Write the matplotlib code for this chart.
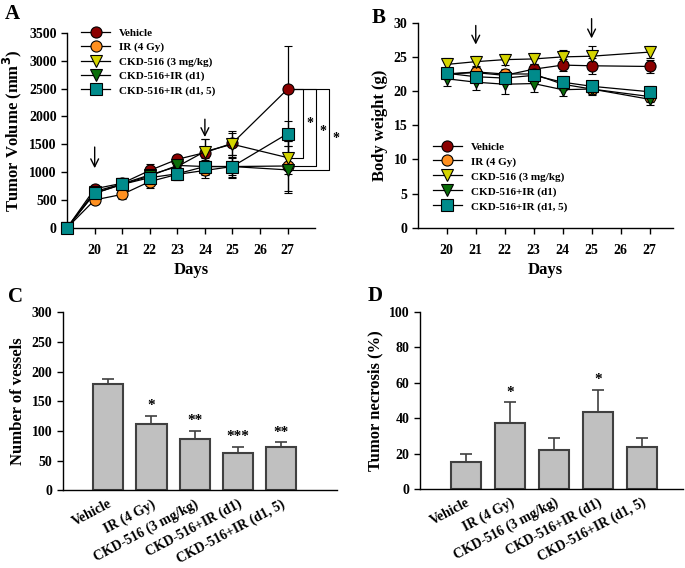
import numpy as np
import matplotlib
matplotlib.use('Agg')
import matplotlib.pyplot as plt
from matplotlib.lines import Line2D

plt.rcParams['font.family'] = ['Liberation Serif', 'DejaVu Serif']
plt.rcParams['font.weight'] = 'bold'
plt.rcParams['axes.labelweight'] = 'bold'

groups = ['Vehicle', 'IR (4 Gy)', 'CKD-516 (3 mg/kg)', 'CKD-516+IR (d1)', 'CKD-516+IR (d1, 5)']
colors = ['#8b0000', '#ff9020', '#d4d400', '#0a6e0a', '#008b8b']
markers = ['o', 'o', 'v', 'v', 's']

# Panel A: tumor volume
days_a = [19, 20, 21, 22, 23, 24, 25, 27]
vol_vehicle = [0, 700, 800, 1030, 1230, 1350, 1520, 2490]
vol_ir = [0, 500, 600, 830, 960, 1030, 1100, 1110]
vol_ckd = [0, 650, 790, 950, 1100, 1370, 1500, 1260]
vol_d1 = [0, 620, 780, 930, 1120, 1100, 1100, 1040]
vol_d15 = [0, 620, 780, 900, 970, 1100, 1100, 1690]
err_vehicle = [0, 70, 90, 110, 80, 250, 210, 780]
err_ir = [0, 60, 80, 120, 100, 130, 150, 450]
err_ckd = [0, 60, 70, 100, 90, 230, 200, 300]
err_d1 = [0, 60, 80, 100, 110, 150, 180, 420]
err_d15 = [0, 60, 80, 100, 120, 120, 200, 230]

# Panel B: body weight
days_b = [20, 21, 22, 23, 24, 25, 27]
bw_vehicle = [22.5, 22.7, 22.3, 23.2, 23.8, 23.7, 23.6]
bw_ir = [22.5, 22.8, 22.5, 22.5, 21.0, 20.3, 19.2]
bw_ckd = [23.9, 24.3, 24.6, 24.7, 25.0, 25.1, 25.7]
bw_d1 = [21.8, 21.3, 21.0, 21.1, 20.2, 20.3, 18.8]
bw_d15 = [22.6, 22.1, 21.9, 22.3, 21.3, 20.7, 19.9]
bwe_vehicle = [0.8, 0.8, 0.8, 0.8, 0.9, 1.2, 0.9]
bwe_ir = [0.7, 0.8, 0.7, 0.7, 0.8, 0.8, 0.8]
bwe_ckd = [0.9, 0.9, 0.8, 0.8, 1.0, 1.5, 0.9]
bwe_d1 = [1.1, 1.2, 1.5, 1.2, 0.9, 0.9, 0.8]
bwe_d15 = [0.6, 0.7, 0.7, 0.8, 0.9, 0.8, 0.9]

# Panel C / D: bars
vessels = [179, 112, 86, 63, 73]
vessels_err = [9, 14, 14, 10, 8]
vessels_sig = ['', '*', '**', '***', '**']
necrosis = [15, 37.5, 22, 43.5, 24]
necrosis_err = [4.5, 11.5, 7, 12.5, 5]
necrosis_sig = ['', '*', '', '*', '']

fig = plt.figure(figsize=(6.85, 5.68), dpi=100)
axA = fig.add_axes([0.098, 0.599, 0.362, 0.343])
axB = fig.add_axes([0.610, 0.599, 0.372, 0.361])
axC = fig.add_axes([0.092, 0.137, 0.400, 0.313])
axD = fig.add_axes([0.613, 0.139, 0.384, 0.312])

handles = [Line2D([0], [0], color='black', lw=0.9, marker=m, markersize=8,
                  markerfacecolor=c, markeredgecolor='black', markeredgewidth=0.8)
           for c, m in zip(colors, markers)]


def style(ax):
    for s in ['top', 'right']:
        ax.spines[s].set_visible(False)
    for s in ['left', 'bottom']:
        ax.spines[s].set_linewidth(1.0)
    ax.tick_params(labelsize=10, width=1.0, length=4)
    for lab in ax.get_xticklabels() + ax.get_yticklabels():
        lab.set_fontweight('bold')


# ---- A
series_a = [(vol_vehicle, err_vehicle), (vol_ir, err_ir), (vol_ckd, err_ckd),
            (vol_d1, err_d1), (vol_d15, err_d15)]
for (v, e), c, m in zip(series_a, colors, markers):
    axA.errorbar(days_a, v, yerr=e, color='black', lw=0.9, capsize=3, capthick=0.9,
                 marker=m, markersize=8, markerfacecolor=c, markeredgecolor='black',
                 markeredgewidth=0.8, clip_on=False, zorder=3)
axA.set_xlim(19, 28)
axA.set_ylim(0, 3500)
axA.set_xticks([19, 20, 21, 22, 23, 24, 25, 26, 27])
axA.set_xticklabels(['', '20', '21', '22', '23', '24', '25', '26', '27'])
axA.set_yticks(np.arange(0, 3501, 500))
axA.set_xlabel('Days', fontsize=12, labelpad=3)
axA.set_ylabel('Tumor Volume (mm$^\\mathbf{3}$)', fontsize=12)
style(axA)
axA.tick_params(axis='x', pad=8)
axA.legend(handles, groups, loc='upper left', bbox_to_anchor=(0.03, 1.06), frameon=False,
           handlelength=2.6, labelspacing=0.4, borderaxespad=0.2,
           prop={'weight': 'bold', 'size': 8})
for d, y0, y1 in [(20, 1500, 1020), (24, 2000, 1580)]:
    axA.annotate('', xy=(d, y1), xytext=(d, y0),
                 arrowprops=dict(arrowstyle='->', color='black', lw=1.0, mutation_scale=14))
# significance brackets
top = vol_vehicle[-1]
for target, xb, ys in [(vol_ckd[-1], 27.55, 1880), (vol_ir[-1], 28.05, 1730), (vol_d1[-1], 28.52, 1610)]:
    axA.plot([27.15, xb, xb, 27.15], [top, top, target, target], color='black', lw=0.8,
             clip_on=False)
    axA.text(xb + 0.12, ys, '*', fontsize=10, ha='left', va='center', clip_on=False)
axA.text(-0.25, 1.07, 'A', transform=axA.transAxes, fontsize=15, fontweight='bold')

# ---- B
series_b = [(bw_vehicle, bwe_vehicle), (bw_ir, bwe_ir), (bw_ckd, bwe_ckd),
            (bw_d1, bwe_d1), (bw_d15, bwe_d15)]
for (v, e), c, m in zip(series_b, colors, markers):
    axB.errorbar(days_b, v, yerr=e, color='black', lw=0.9, capsize=3, capthick=0.9,
                 marker=m, markersize=8, markerfacecolor=c, markeredgecolor='black',
                 markeredgewidth=0.8, zorder=3)
axB.set_xlim(19, 27.8)
axB.set_ylim(0, 30)
axB.set_xticks([20, 21, 22, 23, 24, 25, 26, 27])
axB.set_yticks(np.arange(0, 31, 5))
axB.set_xlabel('Days', fontsize=12, labelpad=3)
axB.set_ylabel('Body weight (g)', fontsize=12)
style(axB)
axB.tick_params(axis='x', pad=8)
axB.legend(handles, groups, loc='lower left', bbox_to_anchor=(0.02, 0.03), frameon=False,
           handlelength=2.6, labelspacing=0.45,
           prop={'weight': 'bold', 'size': 8})
axB.annotate('', xy=(21, 26.4), xytext=(21, 30),
             arrowprops=dict(arrowstyle='->', color='black', lw=1.0, mutation_scale=14))
axB.annotate('', xy=(25, 27.3), xytext=(25, 31.0),
             arrowprops=dict(arrowstyle='->', color='black', lw=1.0, mutation_scale=14),
             annotation_clip=False)
axB.text(-0.18, 1.0, 'B', transform=axB.transAxes, fontsize=15, fontweight='bold')


# ---- C, D
def bars(ax, vals, errs, sigs, ylim, yticks, ylabel, xlim):
    x = np.arange(len(vals))
    ax.bar(x, vals, width=0.7, color='#c0c0c0', edgecolor='#404040', linewidth=1.5,
           yerr=[np.zeros(len(errs)), errs], error_kw=dict(ecolor='#404040', elinewidth=1.2,
                                                          capsize=4, capthick=1.2))
    for xi, v, e, s in zip(x, vals, errs, sigs):
        if s:
            ax.text(xi, v + e + ylim * 0.02, s, ha='center', va='bottom', fontsize=11)
    ax.set_xlim(*xlim)
    ax.set_ylim(0, ylim)
    ax.set_yticks(yticks)
    ax.set_xticks(x)
    ax.set_xticklabels(groups, rotation=28, ha='right', rotation_mode='anchor')
    ax.set_ylabel(ylabel, fontsize=12)
    style(ax)
    ax.tick_params(axis='x', length=0, pad=5)


bars(axC, vessels, vessels_err, vessels_sig, 300, np.arange(0, 301, 50),
     'Number of vessels', (-1.05, 5.3))
axC.text(-0.2, 1.06, 'C', transform=axC.transAxes, fontsize=15, fontweight='bold')
bars(axD, necrosis, necrosis_err, necrosis_sig, 100, np.arange(0, 101, 20),
     'Tumor necrosis (%)', (-1.05, 4.93))
axD.text(-0.2, 1.06, 'D', transform=axD.transAxes, fontsize=15, fontweight='bold')

fig.savefig('out.png', dpi=100)
